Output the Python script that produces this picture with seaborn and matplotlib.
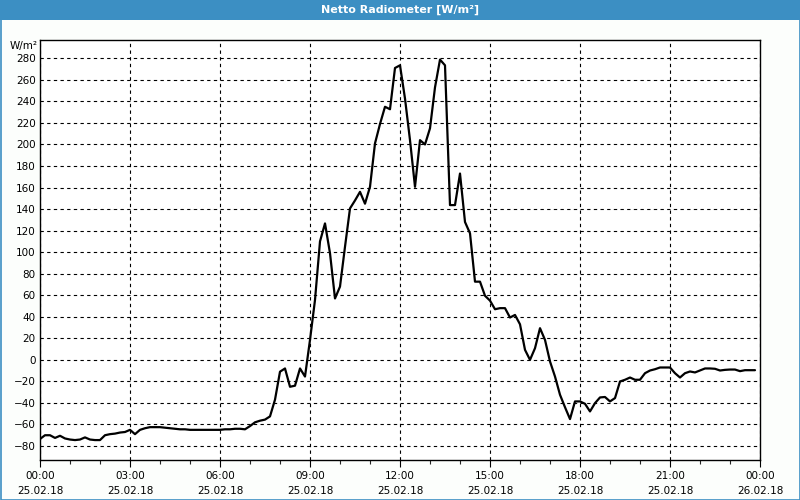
import numpy as np
import pandas as pd
import matplotlib
matplotlib.use("Agg")
import matplotlib.pyplot as plt
import matplotlib.dates as mdates
from matplotlib.patches import Rectangle
import seaborn as sns

# ---- data (10-minute samples, 25.02.18 00:00 .. 23:50) ----
start_time = "2018-02-25 00:00"
end_time = "2018-02-26 00:00"
sample_freq = "10min"
values = [
    -73.5, -70, -70, -72.5, -70.5, -73,
    -74, -74.5, -74, -72, -74, -74.5,
    -74.5, -70, -69, -68.5, -67.5, -67,
    -65, -69, -65, -63.5, -62.5, -62.5,
    -62.5, -63, -63.5, -64, -64.5, -64.5,
    -65, -65, -65, -65, -65, -65,
    -65, -64.5, -64.5, -64, -64, -64.5,
    -61.5, -58, -56.5, -55.5, -52.5, -37,
    -11, -8, -25, -24, -8, -15.5,
    18.5, 55.6, 110, 126.7, 99, 57,
    68, 105, 140.6, 148, 156, 145,
    160.7, 201, 219, 235, 232.7, 271,
    273.5, 242.6, 204, 160.7, 204, 200,
    215, 253, 278.8, 273.5, 143.7, 143.7,
    173, 128, 117.5, 72.6, 72.6, 59.5,
    55, 47, 48, 48, 39.3, 41.7,
    33, 9.3, 0, 10.8, 29.4, 18.5,
    -1.5, -15.5, -32.4, -44, -55, -38.6,
    -38.6, -40.8, -47.9, -40.2, -34.9, -34.5,
    -38.6, -35.5, -20.1, -18.5, -16.4, -18.5,
    -18.5, -12.4, -9.9, -8.7, -7.1, -7.1,
    -7.1, -12.4, -16.4, -12.4, -10.8, -11.7,
    -9.9, -8, -8, -8.3, -9.9, -9.3,
    -9, -9, -10.5, -9.6, -9.6, -9.6,
]
y_ticks = list(range(-80, 281, 20))
title = "Netto Radiometer [W/m²]"
unit_label = "W/m²"

times = pd.date_range(start_time, periods=len(values), freq=sample_freq)
df = pd.DataFrame({"time": times, "value": values})

sns.set_style("white")
plt.rcParams["font.family"] = ["DejaVu Sans"]

fig = plt.figure(figsize=(8, 5), dpi=100)
fig.patch.set_facecolor("#fcfefc")
ax = fig.add_axes([0.05, 0.08, 0.90, 0.84])
ax.set_facecolor("white")

sns.lineplot(data=df, x="time", y="value", ax=ax, color="black", linewidth=1.6)

ax.set_xlim(pd.Timestamp(start_time), pd.Timestamp(end_time))
ax.set_ylim(-93, 297)
ax.set_yticks(y_ticks)
ax.xaxis.set_major_locator(mdates.HourLocator(byhour=range(0, 24, 3)))
ax.xaxis.set_minor_locator(mdates.HourLocator())
ax.xaxis.set_major_formatter(mdates.DateFormatter("%H:%M\n%d.%m.%y"))

ax.grid(True, which="major", axis="both", color="black", linestyle=(0, (3, 3)), linewidth=0.8)
ax.tick_params(axis="y", length=0, pad=3, labelsize=7.5, colors="black")
ax.tick_params(axis="x", which="major", length=5, width=0.8, pad=3, labelsize=7.5,
               colors="black", direction="out", bottom=True)
ax.tick_params(axis="x", which="minor", length=3, width=0.8, direction="out", bottom=True)
for lbl in ax.get_xticklabels():
    lbl.set_linespacing(1.65)
for sp in ax.spines.values():
    sp.set_visible(True)
    sp.set_color("black")
    sp.set_linewidth(1.0)
ax.set_xlabel("")
ax.set_ylabel("")

# title bar
fig.add_artist(Rectangle((0, 1 - 20 / 500), 1, 20 / 500, transform=fig.transFigure,
                         facecolor="#3c8fc3", edgecolor="none", zorder=0))
fig.text(0.5, 1 - 10 / 500, title, ha="center", va="center", color="white",
         fontsize=8, fontweight="bold")
# outer border
fig.add_artist(Rectangle((0.5 / 800, 0.5 / 500), 1 - 1 / 800, 1 - 1 / 500,
                         transform=fig.transFigure, facecolor="none",
                         edgecolor="#3c8fc3", linewidth=1.2, zorder=5))
fig.text(38 / 800, 1 - 46 / 500, unit_label, ha="right", va="center",
         fontsize=7.5, color="black")

fig.savefig("out.png", dpi=100, facecolor=fig.get_facecolor())
